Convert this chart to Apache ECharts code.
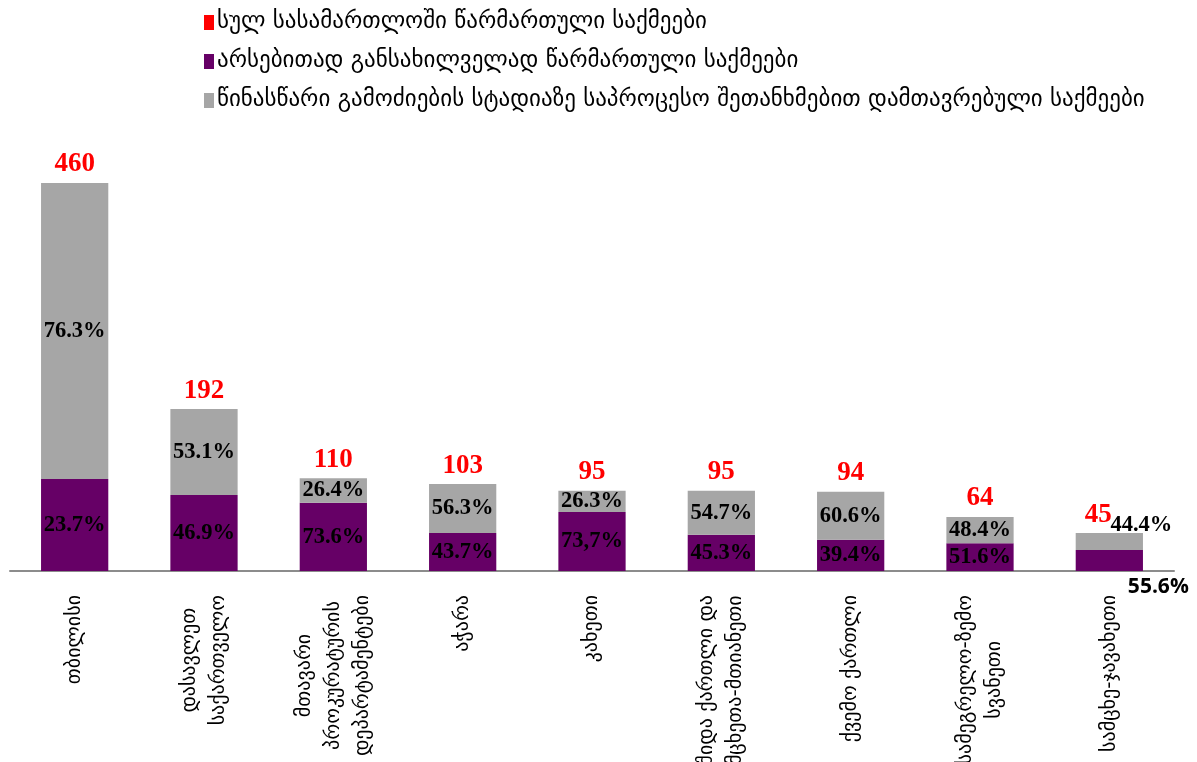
<!DOCTYPE html>
<html>
<head>
<meta charset="utf-8">
<script src="https://cdn.jsdelivr.net/npm/echarts@6/dist/echarts.min.js"></script>
<style>
html,body{margin:0;padding:0;background:#fff;}
#chart{width:1197px;height:762px;}
</style>
</head>
<body>
<div id="chart"></div>
<script>
const categories = [
  'თბილისი',
  'დასავლეთ\nსაქართველო',
  'მთავარი\nპროკურატურის\nდეპარტამენტები',
  'აჭარა',
  'კახეთი',
  'შიდა ქართლი და\nმცხეთა-მთიანეთი',
  'ქვემო ქართლი',
  'სამეგრელო-ზემო\nსვანეთი',
  'სამცხე-ჯავახეთი'
];
const seriesNames = [
  'სულ სასამართლოში წარმართული საქმეები',
  'არსებითად განსახილველად წარმართული საქმეები',
  'წინასწარი გამოძიების სტადიაზე საპროცესო შეთანხმებით დამთავრებული საქმეები'
];
const totals = [460, 192, 110, 103, 95, 95, 94, 64, 45];
const substantive = [109, 90, 81, 45, 70, 43, 37, 33, 25];
const plea = [351, 102, 29, 58, 25, 52, 57, 31, 20];
const substantivePct = ['23.7%', '46.9%', '73.6%', '43.7%', '73,7%', '45.3%', '39.4%', '51.6%', '55.6%'];
const pleaPct = ['76.3%', '53.1%', '26.4%', '56.3%', '26.3%', '54.7%', '60.6%', '48.4%', '44.4%'];
const zeros = totals.map(() => 0);

const serif = '"Liberation Serif", "DejaVu Serif", serif';
const geo = '"DejaVu Sans", sans-serif';
const last = categories.length - 1;

const pctLabel = {show: true, position: 'inside', color: '#000', fontFamily: serif, fontWeight: 'bold', fontSize: 22.5};

function buildData(values, lastLabel) {
  return values.map((v, i) => {
    const item = {value: v};
    if (i === last && lastLabel) item.label = lastLabel;
    return item;
  });
}

const chart = echarts.init(document.getElementById('chart'));
chart.setOption({
  animation: false,
  legend: {
    orient: 'vertical',
    left: 199,
    top: 6,
    itemGap: 16,
    itemWidth: 10,
    itemHeight: 15,
    icon: 'rect',
    textStyle: {fontFamily: geo, fontSize: 23, color: '#000', padding: [0, 0, 0, -2]},
    data: seriesNames
  },
  grid: {left: 10, right: 23, top: 183, bottom: 191, containLabel: false, outerBoundsMode: 'none'},
  xAxis: {
    type: 'category',
    data: categories,
    axisLine: {show: true, lineStyle: {color: '#8c8c8c', width: 2}},
    axisTick: {show: false},
    axisLabel: {
      interval: 0,
      rotate: 90,
      margin: 24,
      color: '#000',
      fontFamily: geo,
      fontSize: 20,
      lineHeight: 29,
      hideOverlap: false,
      formatter: v => v.split('\n').map(s => '{c|' + s + '}').join('\n'),
      rich: {c: {align: 'center', fontFamily: geo, fontSize: 20, lineHeight: 29, color: '#000'}}
    }
  },
  yAxis: {type: 'value', min: 0, max: 460, show: false, splitLine: {show: false}},
  series: [
    {
      name: seriesNames[1], type: 'bar', stack: 's', barWidth: '52%',
      itemStyle: {color: '#660066'},
      label: Object.assign({}, pctLabel, {formatter: p => substantivePct[p.dataIndex]}),
      data: buildData(substantive, {offset: [49, 27], fontFamily: '"Open Sans", sans-serif', fontWeight: 'bold', fontSize: 21})
    },
    {
      name: seriesNames[2], type: 'bar', stack: 's', barWidth: '52%',
      itemStyle: {color: '#a6a6a6'},
      label: Object.assign({}, pctLabel, {formatter: p => pleaPct[p.dataIndex]}),
      data: buildData(plea, {offset: [32, -16]})
    },
    {
      name: seriesNames[0], type: 'bar', stack: 's', barWidth: '52%',
      itemStyle: {color: '#ff0000'},
      label: {show: true, position: 'top', distance: 5, color: '#ff0000', fontFamily: serif, fontWeight: 'bold', fontSize: 27,
        formatter: p => String(totals[p.dataIndex])},
      data: buildData(zeros, {offset: [-11, 0]})
    }
  ]
});
</script>
</body>
</html>
